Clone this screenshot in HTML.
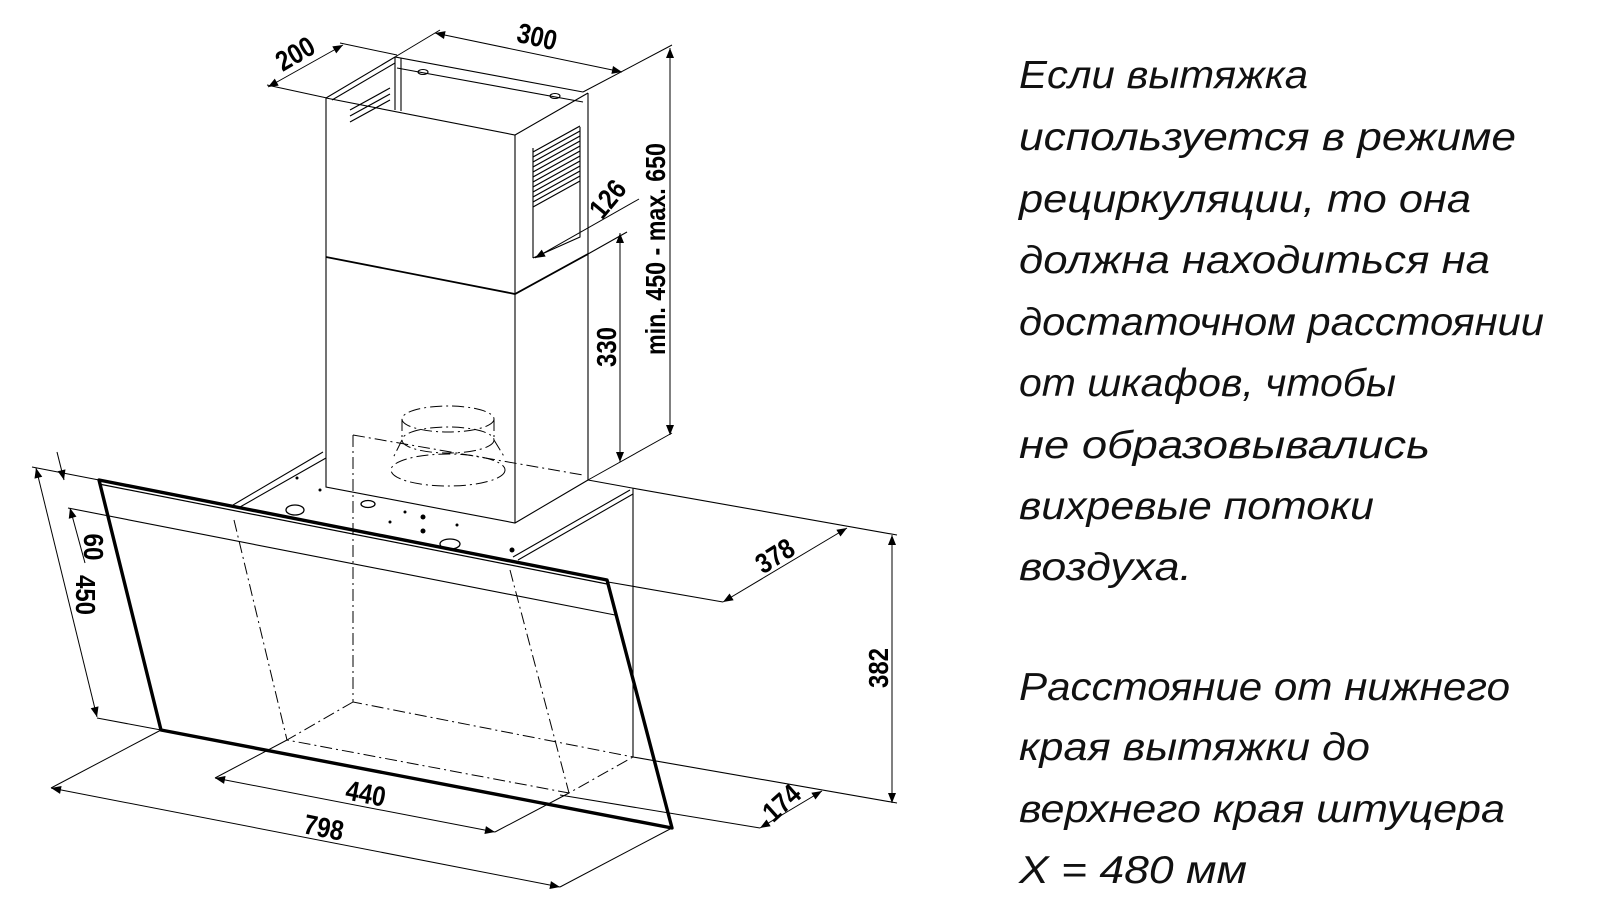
<!DOCTYPE html>
<html><head><meta charset="utf-8"><style>
html,body{margin:0;padding:0;background:#fff;}
svg{display:block;}
.t{font-family:"Liberation Sans","DejaVu Sans",sans-serif;font-style:italic;font-size:39px;fill:#111;}
.d{font-family:"Liberation Sans Narrow","Liberation Sans",sans-serif;font-weight:bold;font-size:28px;fill:#000;}
</style></head><body>
<svg width="1597" height="907" viewBox="0 0 1597 907" xmlns="http://www.w3.org/2000/svg">
<defs>
<marker id="a" viewBox="0 0 10 10" refX="10" refY="5" markerWidth="14" markerHeight="10" markerUnits="userSpaceOnUse" orient="auto-start-reverse">
<path d="M0,1 L10,5 L0,9 z" fill="#000"/></marker>
</defs>
<g stroke="#000" stroke-width="1.1" fill="none">
<path d="M326,98 L326,487 L515,523 L588,480 L588,93"/>
<path d="M515,135 L515,523"/>
<path d="M326,98 L515,135 L588,93"/>
<path d="M326,98 L395,57 L583,92"/>
<path d="M397,68 L583,102" />
<path d="M332,100 L395,63"/>
<path d="M395,57 L395,110 M401,58 L401,111"/>
<path d="M326,257 L515,294 L588,254" stroke-width="1.8"/>
<path d="M588,254 L627,232"/>
<path d="M533,148 L533,258 M533,258 L580,237 L580,127"/>
<g stroke-width="1.2">
<path d="M533,152 L580,126 M533,157 L580,131 M533,162 L580,136 M533,167 L580,141 M533,172 L580,146 M533,177 L580,151 M533,182 L580,156 M533,187 L580,161 M533,192 L580,166 M533,197 L580,171 M533,202 L580,176 M533,207 L580,181"/>
<path d="M350,110 L390,88 M350,116 L390,94 M350,122 L390,100"/>
</g>
<ellipse cx="423" cy="72" rx="5" ry="2.5"/><ellipse cx="555" cy="96" rx="5" ry="2.5"/>
<path d="M233,505 L323,452 M240,507 L326,458"/>
<path d="M513,557 L630,490 M518,560 L633,494"/>
<path d="M588,480 L632,488 L897,535"/>
<path d="M633,488 L633,757"/>
<path d="M633,757 L897,803"/>
<path d="M99,480 L607,580 L672,828 L161,730 Z" stroke-width="3.4" stroke-linejoin="round"/>
<path d="M99,484 L607,584" stroke-width="1.2"/>
<path d="M32,467 L99,480"/>
<path d="M68,508 L615,615"/>
<path d="M97,718 L161,730"/>
<path d="M608,582 L723,602"/>
<path d="M560,795 L760,828"/>
<g stroke-dasharray="12,4,2,4" stroke-width="1">
<path d="M353,435 L353,702 L633,757"/>
<path d="M353,435 L583,475"/>
<path d="M353,702 L287,740 L569,793 L633,757"/>
<path d="M234,520 L287,740"/>
<path d="M510,570 L569,793"/>
<ellipse cx="448" cy="419" rx="46" ry="13"/>
<ellipse cx="448" cy="440" rx="46" ry="13"/>
<ellipse cx="448" cy="470" rx="57" ry="16"/>
<path d="M402,419 L402,440 M494,419 L494,440 M402,440 L393,458 M494,440 L505,458"/>
</g>
<g stroke-width="1.3">
<ellipse cx="295" cy="510" rx="9" ry="5"/><ellipse cx="368" cy="504" rx="7" ry="3.5"/><ellipse cx="450" cy="544" rx="10" ry="5"/>
</g>
<g fill="#000" stroke="none">
<circle cx="390" cy="522" r="1.5"/><circle cx="423" cy="517" r="2.5"/><circle cx="423" cy="531" r="2.5"/><circle cx="512" cy="550" r="2.5"/><circle cx="297" cy="478" r="1.5"/><circle cx="320" cy="490" r="1.5"/><circle cx="457" cy="525" r="1.5"/><circle cx="405" cy="512" r="1.5"/>
</g>
<g stroke-width="1">
<path d="M268,87 L343,45" marker-start="url(#a)" marker-end="url(#a)"/>
<path d="M267,85 L327,98 M340,43 L397,55"/>
<path d="M435,33 L622,72" marker-start="url(#a)" marker-end="url(#a)"/>
<path d="M395,57 L440,30 M583,92 L672,45"/>
<path d="M670,48 L670,435" marker-start="url(#a)" marker-end="url(#a)"/>
<path d="M588,480 L672,433"/>
<path d="M620,233 L620,462" marker-start="url(#a)" marker-end="url(#a)"/>
<path d="M535,258 L639,199" marker-start="url(#a)"/>
<path d="M36,468 L97,717" marker-start="url(#a)" marker-end="url(#a)"/>
<path d="M57,452 L64,480" marker-end="url(#a)"/>
<path d="M85,563 L70,508" marker-end="url(#a)"/>
<path d="M215,778 L495,832" marker-start="url(#a)" marker-end="url(#a)"/>
<path d="M215,778 L287,740 M495,832 L569,793"/>
<path d="M51,788 L560,887" marker-start="url(#a)" marker-end="url(#a)"/>
<path d="M51,788 L161,730 M560,887 L672,828"/>
<path d="M723,602 L847,528" marker-start="url(#a)" marker-end="url(#a)"/>
<path d="M892,535 L892,803" marker-start="url(#a)" marker-end="url(#a)"/>
<path d="M760,828 L822,791" marker-start="url(#a)" marker-end="url(#a)"/>
</g>
</g>
<text class="d" transform="translate(300,62) rotate(-30)" text-anchor="middle" textLength="40" lengthAdjust="spacingAndGlyphs">200</text>
<text class="d" transform="translate(535,46) rotate(13)" text-anchor="middle" textLength="40" lengthAdjust="spacingAndGlyphs">300</text>
<text class="d" transform="translate(665,249) rotate(-90)" text-anchor="middle" font-family="Liberation Sans" font-size="24" textLength="212" lengthAdjust="spacingAndGlyphs">min. 450 - max. 650</text>
<text class="d" transform="translate(616,347) rotate(-90)" text-anchor="middle" textLength="40" lengthAdjust="spacingAndGlyphs">330</text>
<text class="d" transform="translate(615,205) rotate(-50)" text-anchor="middle" textLength="40" lengthAdjust="spacingAndGlyphs">126</text>
<text class="d" transform="translate(84,547) rotate(90)" text-anchor="middle" textLength="27" lengthAdjust="spacingAndGlyphs">60</text>
<text class="d" transform="translate(76,595) rotate(90)" text-anchor="middle" textLength="40" lengthAdjust="spacingAndGlyphs">450</text>
<text class="d" transform="translate(364,803) rotate(11)" text-anchor="middle" textLength="40" lengthAdjust="spacingAndGlyphs">440</text>
<text class="d" transform="translate(322,837) rotate(11)" text-anchor="middle" textLength="40" lengthAdjust="spacingAndGlyphs">798</text>
<text class="d" transform="translate(780,564) rotate(-32)" text-anchor="middle" textLength="40" lengthAdjust="spacingAndGlyphs">378</text>
<text class="d" transform="translate(888,668) rotate(-90)" text-anchor="middle" textLength="40" lengthAdjust="spacingAndGlyphs">382</text>
<text class="d" transform="translate(788,810) rotate(-42)" text-anchor="middle" textLength="40" lengthAdjust="spacingAndGlyphs">174</text>
<text class="t" x="1019" y="88" textLength="289" lengthAdjust="spacingAndGlyphs">Если вытяжка</text>
<text class="t" x="1019" y="150" textLength="497" lengthAdjust="spacingAndGlyphs">используется в режиме</text>
<text class="t" x="1019" y="212" textLength="452" lengthAdjust="spacingAndGlyphs">рециркуляции, то она</text>
<text class="t" x="1019" y="273" textLength="471" lengthAdjust="spacingAndGlyphs">должна находиться на</text>
<text class="t" x="1019" y="335" textLength="525" lengthAdjust="spacingAndGlyphs">достаточном расстоянии</text>
<text class="t" x="1019" y="396" textLength="377" lengthAdjust="spacingAndGlyphs">от шкафов, чтобы</text>
<text class="t" x="1019" y="458" textLength="411" lengthAdjust="spacingAndGlyphs">не образовывались</text>
<text class="t" x="1019" y="519" textLength="355" lengthAdjust="spacingAndGlyphs">вихревые потоки</text>
<text class="t" x="1019" y="580" textLength="173" lengthAdjust="spacingAndGlyphs">воздуха.</text>
<text class="t" x="1019" y="700" textLength="491" lengthAdjust="spacingAndGlyphs">Расстояние от нижнего</text>
<text class="t" x="1019" y="760" textLength="351" lengthAdjust="spacingAndGlyphs">края вытяжки до</text>
<text class="t" x="1019" y="822" textLength="486" lengthAdjust="spacingAndGlyphs">верхнего края штуцера</text>
<text class="t" x="1019" y="883" textLength="228" lengthAdjust="spacingAndGlyphs">X = 480 мм</text>
</svg>
</body></html>
